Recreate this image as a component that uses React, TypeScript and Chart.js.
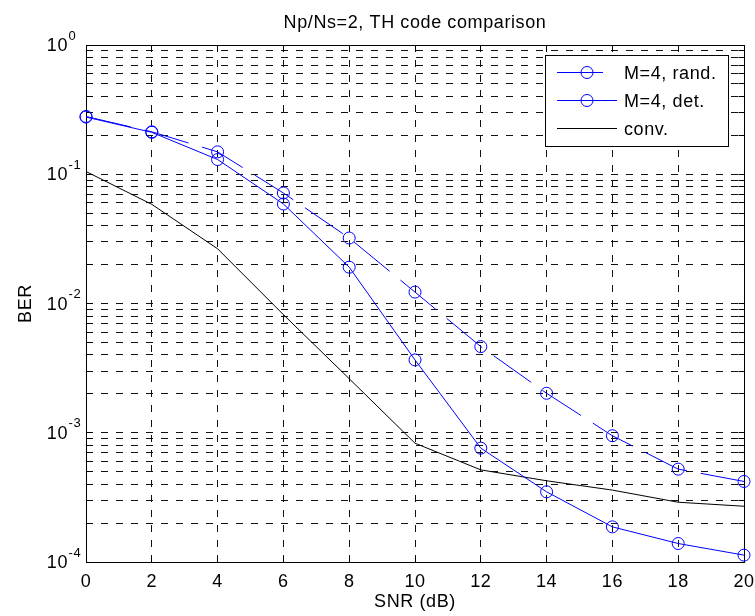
import React, { useEffect, useRef } from 'react';
import { Chart, registerables } from 'chart.js';

Chart.register(...registerables);

// ---------- data ----------
const snrDb = [0, 2, 4, 6, 8, 10, 12, 14, 16, 18, 20];
const berRand = [0.28, 0.213, 0.149, 0.0716, 0.0321, 0.01225, 0.00464, 0.00202, 0.000948, 0.000523, 0.00042];
const berDet = [0.277, 0.211, 0.13, 0.0589, 0.0191, 0.00366, 0.00076, 0.000349, 0.000187, 0.000139, 0.000113];
const berConv = [0.105, 0.0585, 0.0265, 0.0082, 0.00262, 0.00083, 0.000516, 0.000425, 0.00036, 0.00029, 0.00027];

const xTickValues = [0, 2, 4, 6, 8, 10, 12, 14, 16, 18, 20];
const xTickLabels = ['0', '2', '4', '6', '8', '10', '12', '14', '16', '18', '20'];
const yDecades = [1e-4, 1e-3, 1e-2, 1e-1, 1];
const yDecadeExponents = ['-4', '-3', '-2', '-1', '0'];
const yMinorMultipliers = [2, 3, 4, 5, 6, 7, 8, 9];

const titleText = 'Np/Ns=2, TH code comparison';
const xLabelText = 'SNR (dB)';
const yLabelText = 'BER';
const legendLabels = ['M=4, rand.', 'M=4, det.', 'conv.'];

const yTickValues: number[] = [];
yDecades.forEach((d, i) => {
  yTickValues.push(d);
  if (i < yDecades.length - 1) yMinorMultipliers.forEach((m) => yTickValues.push(d * m));
});

// ---------- styling ----------
const FONT_FAMILY = '"Liberation Sans", Arial, Helvetica, sans-serif';
const FONT = `18px ${FONT_FAMILY}`;
const SUP_FONT = `13px ${FONT_FAMILY}`;
const BLUE = '#0000ff';
const TICK = 6;
const RAND_DASH = [46, 14];

const align = (p: number) => Math.round(p - 0.5) + 0.5;

const setSpacing = (ctx: any, v: string) => {
  if ('letterSpacing' in ctx) ctx.letterSpacing = v;
};

const decorPlugin = {
  id: 'matlabDecor',
  beforeDatasetsDraw(chart: any) {
    const { ctx, chartArea: a, scales } = chart;
    ctx.save();
    ctx.strokeStyle = '#000';
    ctx.lineWidth = 1;
    ctx.setLineDash([]);
    ctx.beginPath();
    const L = align(a.left), R = align(a.right), T = align(a.top), B = align(a.bottom);
    ctx.moveTo(L, T); ctx.lineTo(R, T); ctx.lineTo(R, B); ctx.lineTo(L, B); ctx.closePath();
    xTickValues.forEach((v) => {
      const px = align(scales.x.getPixelForValue(v));
      ctx.moveTo(px, B); ctx.lineTo(px, B - TICK);
      ctx.moveTo(px, T); ctx.lineTo(px, T + TICK);
    });
    yTickValues.forEach((v) => {
      const py = align(scales.y.getPixelForValue(v));
      ctx.moveTo(L, py); ctx.lineTo(L + TICK, py);
      ctx.moveTo(R, py); ctx.lineTo(R - TICK, py);
    });
    ctx.stroke();
    ctx.restore();
  },
  afterDraw(chart: any) {
    const { ctx, chartArea: a, scales } = chart;
    const cx = (a.left + a.right) / 2;
    const cy = (a.top + a.bottom) / 2;
    ctx.save();
    ctx.fillStyle = '#000';
    ctx.textBaseline = 'alphabetic';
    setSpacing(ctx, '0.6px');

    // title
    ctx.font = FONT;
    ctx.textAlign = 'center';
    ctx.fillText(titleText, cx, 28);

    // x tick labels
    xTickValues.forEach((v, i) => {
      const px = scales.x.getPixelForValue(v);
      ctx.fillText(xTickLabels[i], px, a.bottom + 25);
    });

    // x label
    ctx.fillText(xLabelText, cx, 607);

    // y label
    ctx.save();
    ctx.translate(31, cy);
    ctx.rotate(-Math.PI / 2);
    ctx.textAlign = 'center';
    ctx.fillText(yLabelText, 0, 0);
    ctx.restore();

    // y tick labels 10^n
    yDecades.forEach((v, i) => {
      const py = scales.y.getPixelForValue(v);
      ctx.font = FONT;
      ctx.textAlign = 'right';
      ctx.fillText('10', a.left - 18, py + 6);
      ctx.font = SUP_FONT;
      ctx.textAlign = 'left';
      ctx.fillText(yDecadeExponents[i], a.left - 18 + 0.5, py - 5.5);
    });

    // legend
    setSpacing(ctx, '0.6px');
    const bx = 545.5, by = 55.5, bw = 183, bh = 91;
    ctx.fillStyle = '#fff';
    ctx.fillRect(bx, by, bw, bh);
    ctx.strokeStyle = '#000';
    ctx.lineWidth = 1;
    ctx.setLineDash([]);
    ctx.strokeRect(bx, by, bw, bh);
    const rows = [72.5, 100.5, 128.5];
    const lx1 = 557, lx2 = 617, mx = 587;
    const styles = [
      { color: BLUE, dash: RAND_DASH, marker: true },
      { color: BLUE, dash: [] as number[], marker: true },
      { color: '#000', dash: [] as number[], marker: false },
    ];
    styles.forEach((s, i) => {
      const y = rows[i];
      ctx.strokeStyle = s.color;
      ctx.lineWidth = 1;
      ctx.setLineDash(s.dash);
      ctx.beginPath();
      ctx.moveTo(lx1, y); ctx.lineTo(lx2, y);
      ctx.stroke();
      ctx.setLineDash([]);
      if (s.marker) {
        ctx.beginPath();
        ctx.arc(mx, y, 6, 0, Math.PI * 2);
        ctx.stroke();
      }
      ctx.fillStyle = '#000';
      ctx.font = FONT;
      ctx.textAlign = 'left';
      ctx.fillText(legendLabels[i], 624, y + 6.5);
    });
    ctx.restore();
  },
};

export default function App() {
  const canvasRef = useRef<HTMLCanvasElement | null>(null);

  useEffect(() => {
    const canvas = canvasRef.current;
    if (!canvas) return;
    const gridOpts = {
      color: '#111',
      lineWidth: 1,
      drawTicks: false,
    };
    const chart = new Chart(canvas, {
      type: 'line',
      data: {
        datasets: [
          {
            label: legendLabels[0],
            data: snrDb.map((x, i) => ({ x, y: berRand[i] })),
            borderColor: BLUE,
            borderWidth: 1,
            borderDash: RAND_DASH,
            pointStyle: 'circle',
            pointRadius: 6,
            pointBorderWidth: 1,
            pointBorderColor: BLUE,
            pointBackgroundColor: 'rgba(0,0,0,0)',
            tension: 0,
            fill: false,
            clip: false as any,
          },
          {
            label: legendLabels[1],
            data: snrDb.map((x, i) => ({ x, y: berDet[i] })),
            borderColor: BLUE,
            borderWidth: 1,
            pointStyle: 'circle',
            pointRadius: 6,
            pointBorderWidth: 1,
            pointBorderColor: BLUE,
            pointBackgroundColor: 'rgba(0,0,0,0)',
            tension: 0,
            fill: false,
            clip: false as any,
          },
          {
            label: legendLabels[2],
            data: snrDb.map((x, i) => ({ x, y: berConv[i] })),
            borderColor: '#000',
            borderWidth: 1,
            pointRadius: 0,
            tension: 0,
            fill: false,
            clip: false as any,
          },
        ],
      },
      options: {
        animation: false,
        responsive: false,
        devicePixelRatio: 1,
        events: [],
        layout: { padding: { left: 0, right: 11, top: 45, bottom: 0 } },
        plugins: {
          legend: { display: false },
          title: { display: false },
          tooltip: { enabled: false },
        },
        scales: {
          x: {
            type: 'linear',
            min: 0,
            max: 20,
            afterBuildTicks: (s: any) => {
              s.ticks = xTickValues.map((v) => ({ value: v }));
            },
            afterFit: (s: any) => {
              s.height = 54;
            },
            ticks: { display: false },
            grid: gridOpts,
            border: { display: false, dash: [7, 8] },
          },
          y: {
            type: 'logarithmic',
            min: 1e-4,
            max: 1,
            afterBuildTicks: (s: any) => {
              s.ticks = yTickValues.map((v) => ({ value: v }));
            },
            afterFit: (s: any) => {
              s.width = 86;
            },
            ticks: { display: false },
            grid: gridOpts,
            border: { display: false, dash: [7, 8] },
          },
        },
      } as any,
      plugins: [decorPlugin],
    });
    return () => chart.destroy();
  }, []);

  return (
    <div style={{ position: 'absolute', left: 0, top: 0, width: 755, height: 616, background: '#fff' }}>
      <canvas ref={canvasRef} width={755} height={616} style={{ width: 755, height: 616, display: 'block' }} />
    </div>
  );
}
